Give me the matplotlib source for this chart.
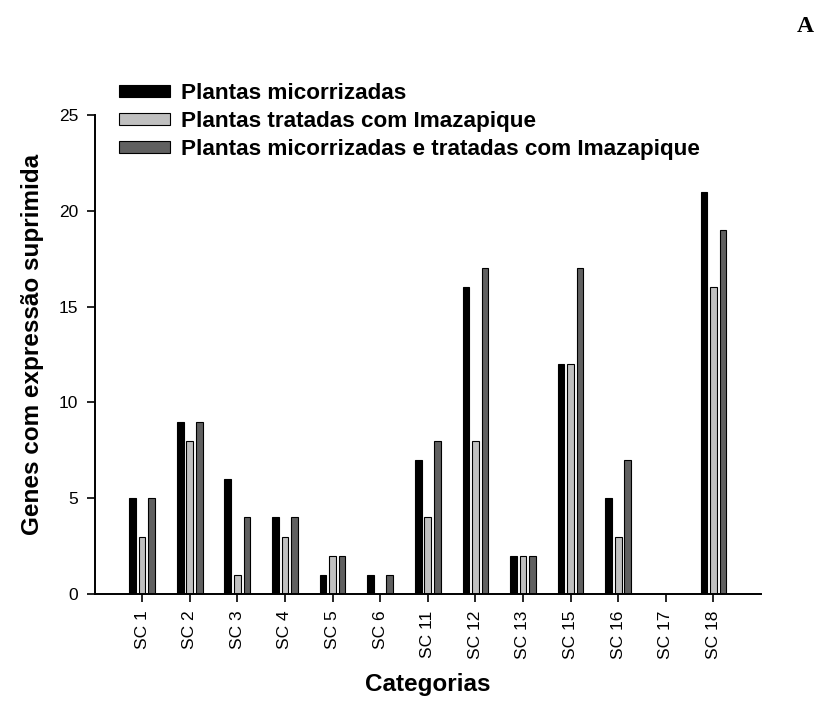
import matplotlib
matplotlib.use("Agg")
import matplotlib.pyplot as plt
import numpy as np

categories = ["SC 1", "SC 2", "SC 3", "SC 4", "SC 5", "SC 6", "SC 11",
              "SC 12", "SC 13", "SC 15", "SC 16", "SC 17", "SC 18"]
micorrizadas = [5, 9, 6, 4, 1, 1, 7, 16, 2, 12, 5, 0, 21]
imazapique = [3, 8, 1, 3, 2, 0, 4, 8, 2, 12, 3, 0, 16]
mic_imazapique = [5, 9, 4, 4, 2, 1, 8, 17, 2, 17, 7, 0, 19]
series_labels = ["Plantas micorrizadas",
                 "Plantas tratadas com Imazapique",
                 "Plantas micorrizadas e tratadas com Imazapique"]
y_ticks = [0, 5, 10, 15, 20, 25]

plt.rcParams['font.family'] = ['Liberation Sans', 'DejaVu Sans']

W, H = 821, 715
fig = plt.figure(figsize=(W/100, H/100), dpi=100)
ax = fig.add_axes([95/W, 1-594/H, (761-95)/W, (594-115)/H])

x = np.arange(len(categories))
w = 0.14
off = 0.2
colors = ["#000000", "#c0c0c0", "#606060"]
for i, (vals, lab) in enumerate(zip([micorrizadas, imazapique, mic_imazapique], series_labels)):
    ax.bar(x + (i-1)*off, vals, width=w, color=colors[i], edgecolor="black",
           linewidth=0.8, label=lab)

ax.set_xlim(-0.99, 13.0)
ax.set_ylim(0, 25)
ax.set_yticks(y_ticks)
ax.set_xticks(x)
ax.set_xticklabels(categories, rotation=90, fontsize=12.5)
ax.tick_params(axis='y', labelsize=12.5, direction='out', length=6, width=1.2, pad=6)
ax.tick_params(axis='x', direction='out', length=6, width=1.2, pad=6)
for s in ["top", "right"]:
    ax.spines[s].set_visible(False)
for s in ["left", "bottom"]:
    ax.spines[s].set_linewidth(1.4)

ax.set_xlabel("Categorias", fontsize=17.5, fontweight="bold")
ax.xaxis.set_label_coords(0.5, -(673-594)/479)
ax.xaxis.label.set_va("top")
ax.set_ylabel("Genes com expressão suprimida", fontsize=17.5, fontweight="bold")
ax.yaxis.set_label_coords((44-95)/666, 0.5 + 10/479)

leg = ax.legend(loc="upper left", bbox_to_anchor=(119/W, 1-83/H),
                bbox_transform=fig.transFigure, frameon=False,
                prop={'weight': 'bold', 'size': 16.2}, handlelength=2.27,
                handleheight=0.45, handletextpad=0.49, labelspacing=0.32,
                borderaxespad=0, borderpad=0)

fig.text(805/W, 1-27/H, "A", fontsize=17, fontweight="bold",
         family="Liberation Serif", ha="center", va="center")

fig.savefig("out.png", dpi=100)
